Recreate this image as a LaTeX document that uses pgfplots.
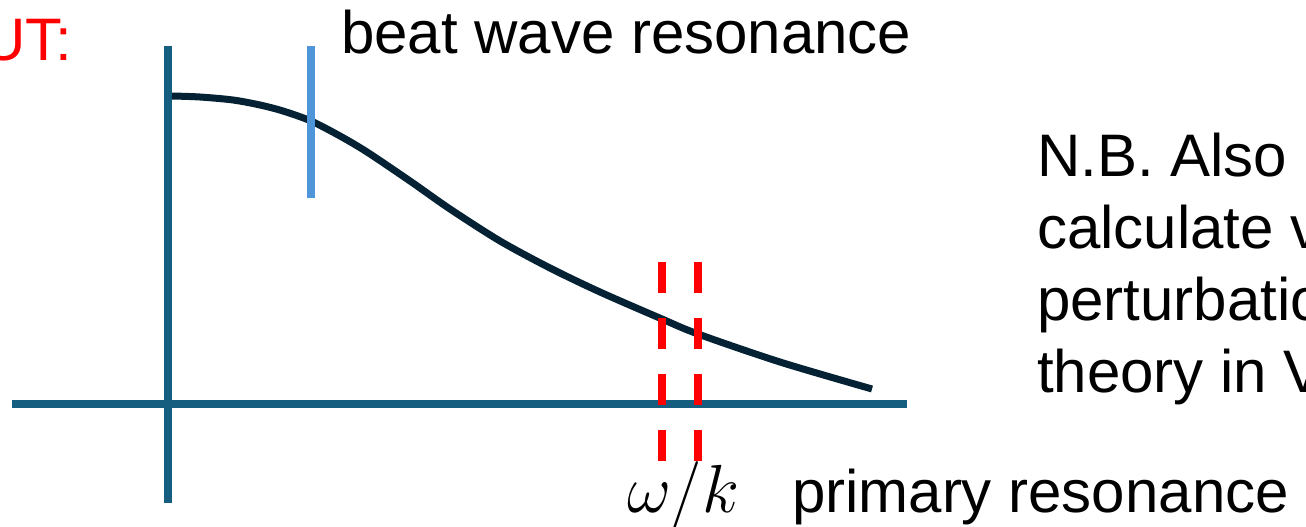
\RequirePackage{fix-cm}
\documentclass[border=0pt]{standalone}
\usepackage{fontspec}
\setmainfont{Liberation Sans}
\usepackage{pgfplots}
\pgfplotsset{compat=1.18}
\definecolor{axcol}{RGB}{22,94,128}
\definecolor{curvecol}{RGB}{4,34,52}
\definecolor{beatcol}{RGB}{78,149,217}
\definecolor{redcol}{RGB}{255,0,0}
\tikzset{lbl/.style={font=\fontsize{30}{36}\selectfont, inner sep=0pt, outer sep=0pt}}
\begin{document}
\begin{tikzpicture}
\path[use as bounding box, clip] (0,0) rectangle (653pt,263pt);
\begin{axis}[
  at={(0,0)}, anchor=south west,
  scale only axis, width=653pt, height=263pt,
  xmin=0, xmax=1306, ymin=0, ymax=526,
  hide axis, clip=false,
]
% axes cross
\addplot[axcol, line width=4pt] coordinates {(168,480) (168,23)};
\addplot[axcol, line width=4pt] coordinates {(12,122) (907,122)};
% distribution curve
\addplot[curvecol, line width=3.5pt, smooth] coordinates {
  (172,430) (200,429) (233,426) (260,421) (283,415) (311,405) (340,390)
  (367,374) (410,345) (450,317) (500,285) (550,258) (600,234) (662,207)
  (698,192) (780,164) (872,137)
};
% beat wave resonance marker
\addplot[beatcol, line width=4pt] coordinates {(311,480) (311,328)};
% primary resonance markers
\addplot[redcol, line width=4pt, dash pattern=on 15.5pt off 12.5pt] coordinates {(662,264) (662,65)};
\addplot[redcol, line width=4pt, dash pattern=on 15.5pt off 12.5pt] coordinates {(698,264) (698,65)};
% texts
\node[lbl, anchor=base east, text=redcol] at (axis cs:72,465) {UT:};
\node[lbl, anchor=base west] at (axis cs:341,473) {beat wave resonance};
\node[inner sep=0pt, outer sep=0pt, font=\fontsize{34}{40}\selectfont, anchor=base west] at (axis cs:627,14) {$\omega/k$};
\node[lbl, anchor=base west] at (axis cs:792,14) {primary resonance};
\node[lbl, anchor=base west] at (axis cs:1037,350) {N.B. Also};
\node[lbl, anchor=base west] at (axis cs:1037,278) {calculate via};
\node[lbl, anchor=base west] at (axis cs:1037,206) {perturbation};
\node[lbl, anchor=base west] at (axis cs:1037,134) {theory in Vlasov};
\end{axis}
\end{tikzpicture}
\end{document}
